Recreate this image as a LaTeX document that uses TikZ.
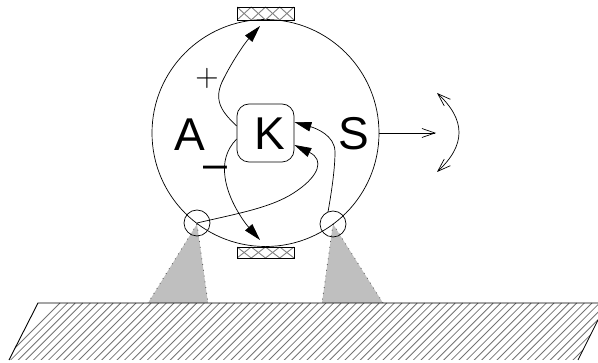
\documentclass[tikz,border=0pt]{standalone}
\usepackage{fontspec}
\setmainfont{Liberation Sans}
\usetikzlibrary{arrows.meta,shapes.geometric}
\tikzset{
  big/.style={inner sep=0pt,font=\fontsize{46}{46}\selectfont},
  ring/.style={draw,circle,minimum size=26pt,inner sep=0pt,line width=.7pt},
  solidtip/.style={-{Triangle[length=17pt,width=9.5pt]},line width=.7pt},
  opentip/.style={{Straight Barb[length=13pt,width=9pt,line width=.7pt]}-{Straight Barb[length=13pt,width=9pt,line width=.7pt]},line width=.7pt},
  opentipend/.style={-{Straight Barb[length=13pt,width=9pt,line width=.7pt]},line width=.7pt},
  cone/.style={draw=black!70,line width=.8pt,dash pattern=on .8pt off 5pt},
  gridbox/.style={draw,line width=.6pt},
  hatchline/.style={draw=black!55,line width=.8pt},
  weave/.style={draw=black!50,line width=.9pt}
}
\begin{document}
\begin{tikzpicture}[x=1pt,y=-1pt]
\useasboundingbox (0,0) rectangle (598,363);
% ground hatching
\begin{scope}
\clip (38,303) -- (9,360) -- (578,360) -- (598,320) -- (598,303) -- cycle;
\foreach \i in {0,...,85} {
  \draw[hatchline] ({\i*7.6},363) -- ({\i*7.6+60},303);
}
\end{scope}
% cones
\fill[black!25] (197,224) -- (148,303) -- (208,303) -- cycle;
\fill[black!25] (333,224) -- (322,303) -- (383,303) -- cycle;
\draw[cone] (197,224) -- (148,303);
\draw[cone] (197,224) -- (208,303);
\draw[cone] (333,224) -- (322,303);
\draw[cone] (333,224) -- (383,303);
\draw[line width=.9pt] (9,360) -- (38,303) -- (598,303);
\draw[line width=.7pt] (578,360) -- (598,320);
% body
\node[draw,circle,minimum size=227pt,inner sep=0pt,line width=.7pt] (body) at (265.5,133) {};
\node[ring] (ringL) at (197,223) {};
\node[ring] (ringR) at (333,224) {};
\node[draw,rounded corners=12pt,minimum width=57pt,minimum height=58pt,inner sep=0pt,line width=.7pt,fill=white] (K) at (265.5,133) {};
\node[big] (labK) at (270,134) {K};
\node[big] (labA) at (190,135) {A};
\node[big] (labS) at (354,134) {S};
\node[inner sep=0pt,scale=1.3] (plus) at (207,78) {\fontsize{25}{25}\selectfont$+$};
\node[inner sep=0pt,font=\fontsize{43}{43}\selectfont] (minus) at (215,172) {–};
% brushes
\foreach \n/\yt/\h in {brushT/7/13,brushB/247/11} {
  \begin{scope}
    \clip (237,\yt) rectangle (294,\yt+\h);
    \foreach \k in {0,...,3} {
      \draw[weave] ({237+\k*14.25},\yt) -- ({237+\k*14.25+14.25},\yt+\h);
      \draw[weave] ({237+\k*14.25+14.25},\yt) -- ({237+\k*14.25},\yt+\h);
    }
  \end{scope}
  \node[gridbox,minimum width=57pt,minimum height=\h pt,inner sep=0pt] (\n) at (265.5,\yt+\h/2) {};
}
% connectors
\coordinate (tipT) at (260,26);
\coordinate (tipB) at (260,240);
\coordinate (farR) at (379,133);
\coordinate (head) at (436,133);
\coordinate (swingT) at (437,93);
\coordinate (swingB) at (437,172);
\draw[solidtip] (K.west |- 0,126) .. controls (222,112) and (212,100) .. (224,78) .. controls (232,62) and (244,44) .. (tipT);
\draw[solidtip] (K.west |- 0,139) .. controls (226,150) and (223,163) .. (225,177) .. controls (228,200) and (244,222) .. (tipB);
\draw[solidtip] (ringL.center) .. controls (240,213) and (275,207) .. (298,190) .. controls (318,176) and (325,160) .. (K.east |- 0,145);
\draw[solidtip] (ringR.center) ++(-5,-12) .. controls (331,195) and (335,170) .. (335,152) .. controls (335,135) and (315,128) .. (K.east |- 0,122);
\draw[opentipend] (farR) -- (head);
\draw[opentip] (swingT) .. controls (466,120) and (466,145) .. (swingB);
\end{tikzpicture}
\end{document}
